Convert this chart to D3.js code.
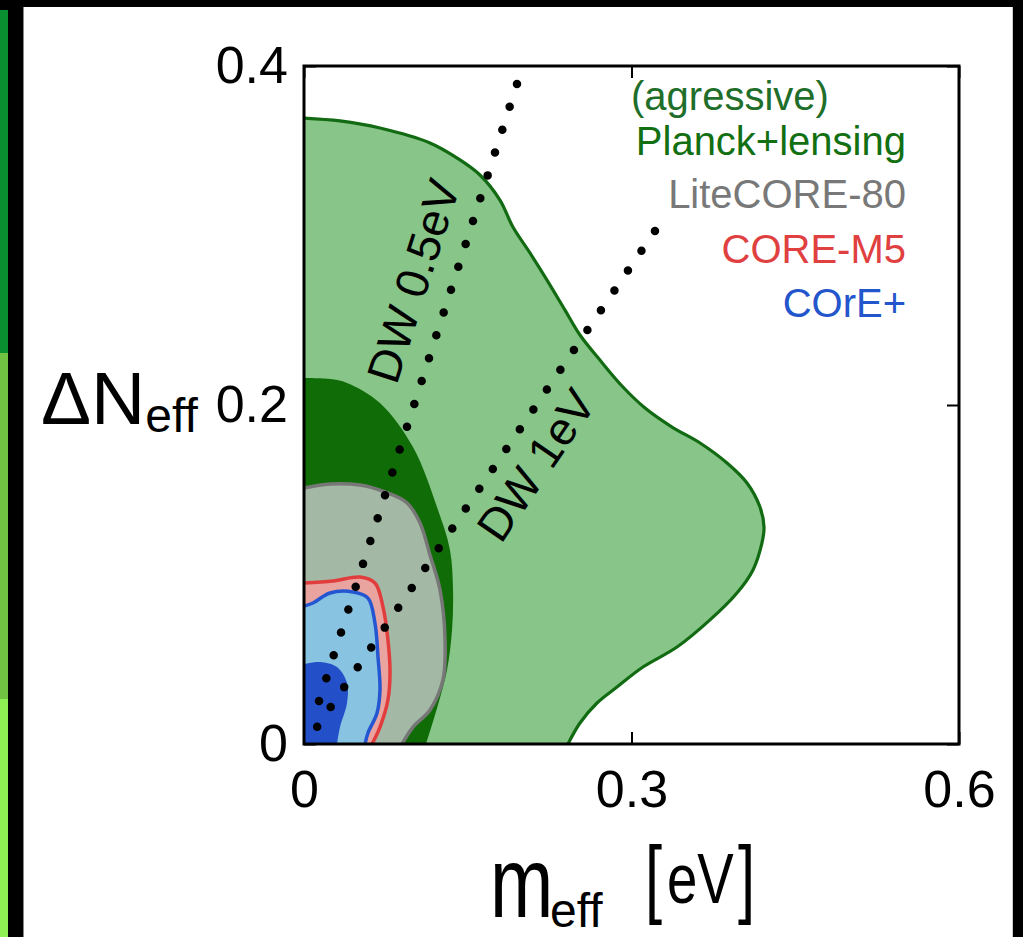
<!DOCTYPE html>
<html>
<head>
<meta charset="utf-8">
<script src="https://cdn.jsdelivr.net/npm/d3@7"></script>
<style>
  html, body { margin: 0; padding: 0; background: #000; }
  svg { display: block; }
  text { font-family: "Liberation Sans", Arial, sans-serif; }
</style>
</head>
<body>
<svg id="chart" width="1023" height="937"></svg>
<script>
// ---- axis ticks ----
const xTicks = [0, 0.3, 0.6];
const xTickLabels = ["0", "0.3", "0.6"];
const yTicks = [0, 0.2, 0.4];
const yTickLabels = ["0", "0.2", "0.4"];

// ---- contour boundaries [m_eff (eV), ΔN_eff], running from the ΔN axis to the m axis ----
const planck95 = [
  [0, 0.3693], [0.0330, 0.3676], [0.0696, 0.3634], [0.1154, 0.3546], [0.1402, 0.3457],
  [0.1612, 0.3357], [0.1795, 0.3209], [0.1914, 0.3050], [0.2070, 0.2897], [0.2226, 0.2737],
  [0.2391, 0.2560], [0.2528, 0.2413], [0.2711, 0.2265], [0.2913, 0.2112], [0.3124, 0.1982],
  [0.3371, 0.1870], [0.3628, 0.1776], [0.3875, 0.1658], [0.4058, 0.1540], [0.4177, 0.1398],
  [0.4214, 0.1280], [0.4195, 0.1186], [0.4113, 0.1027], [0.3966, 0.0891], [0.3719, 0.0732],
  [0.3417, 0.0572], [0.3105, 0.0454], [0.2867, 0.0336], [0.2684, 0.0242], [0.2528, 0.0124],
  [0.2418, 0]
];
const planck68 = [
  [0, 0.2159], [0.0238, 0.2153], [0.0394, 0.2130], [0.0696, 0.2012], [0.0998, 0.1752],
  [0.1218, 0.1398], [0.1337, 0.1145], [0.1365, 0.0909], [0.1356, 0.0673], [0.1310, 0.0437],
  [0.1227, 0.0230], [0.1118, 0]
];
const liteCore = [
  [0, 0.1510], [0.0238, 0.1534], [0.0513, 0.1528], [0.0742, 0.1487], [0.0944, 0.1422],
  [0.1063, 0.1304], [0.1154, 0.1115], [0.1246, 0.0909], [0.1292, 0.0614], [0.1273, 0.0378],
  [0.1154, 0.0201], [0.0998, 0.0100], [0.0898, 0]
];
const coreM5 = [
  [0, 0.0950], [0.0266, 0.0962], [0.0513, 0.0985], [0.0650, 0.0950], [0.0724, 0.0808],
  [0.0769, 0.0614], [0.0788, 0.0419], [0.0769, 0.0260], [0.0696, 0.0100], [0.0623, 0]
];
const corePlus95 = [
  [0, 0.0814], [0.0082, 0.0832], [0.0238, 0.0891], [0.0449, 0.0897], [0.0586, 0.0861],
  [0.0650, 0.0714], [0.0678, 0.0513], [0.0696, 0.0319], [0.0669, 0.0183], [0.0586, 0.0065],
  [0.0559, 0]
];
const corePlus68 = [
  [0, 0.0472], [0.0147, 0.0484], [0.0302, 0.0454], [0.0394, 0.0360], [0.0394, 0.0242],
  [0.0330, 0.0100], [0.0302, 0]
];

// ---- Dodelson–Widrow lines [m_eff, ΔN_eff] ----
const dw05 = [[0.1951, 0.3894], [0.0073, 0.0124]];
const dw1 = [[0.3215, 0.3027], [0.0119, 0.0100]];
const dwLabels = ["DW 0.5eV", "DW 1eV"];
const dwLabelAt = [[0.1000, 0.2732], [0.2125, 0.1646]];

// ---- legend ----
const legendLabels = ["(agressive)", "Planck+lensing", "LiteCORE-80", "CORE-M5", "COrE+"];
const legendColors = ["#1f6e2a", "#127012", "#787878", "#e0403f", "#2355cc"];

// ---- layout ----
const W = 1023, H = 937;
const plot = { left: 304, right: 959, top: 66, bottom: 744 };

const svg = d3.select("#chart");

// page frame
svg.append("rect").attr("width", W).attr("height", H).attr("fill", "#000");
const strip = [[10, 353, "#0a8f30"], [353, 699, "#71c143"], [699, 937, "#8ef052"]];
strip.forEach(([a, b, c]) => svg.append("rect").attr("x", 0).attr("y", a).attr("width", 8).attr("height", b - a).attr("fill", c));
svg.append("rect").attr("x", 23).attr("y", 7).attr("width", 990).attr("height", H - 7).attr("fill", "#fff");
svg.append("line").attr("x1", 23.5).attr("x2", 23.5).attr("y1", 7).attr("y2", H).attr("stroke", "#888").attr("stroke-width", 1);
svg.append("line").attr("x1", 1012.5).attr("x2", 1012.5).attr("y1", 7).attr("y2", H).attr("stroke", "#ccc").attr("stroke-width", 1);

const x = d3.scaleLinear().domain([0, 0.6]).range([plot.left, plot.right]);
const y = d3.scaleLinear().domain([0, 0.4]).range([plot.bottom, plot.top]);

// ---- axes (inward ticks, drawn beneath the filled regions) ----
function styleAxis(g) {
  g.select(".domain").remove();
  g.selectAll(".tick line").attr("stroke", "#000").attr("stroke-width", 2);
  g.selectAll(".tick text").attr("fill", "#000").attr("font-size", 52)
    .attr("font-family", '"Liberation Sans", Arial, sans-serif');
}
svg.append("g").attr("transform", `translate(0,${plot.bottom})`)
  .call(d3.axisBottom(x).tickValues(xTicks).tickFormat((d, i) => xTickLabels[i]).tickSize(-12).tickPadding(26))
  .call(styleAxis);
svg.append("g").attr("transform", `translate(0,${plot.top})`)
  .call(d3.axisTop(x).tickValues(xTicks).tickFormat("").tickSize(-12))
  .call(styleAxis);
svg.append("g").attr("transform", `translate(${plot.left},0)`)
  .call(d3.axisLeft(y).tickValues(yTicks).tickFormat((d, i) => yTickLabels[i]).tickSize(-12).tickPadding(16))
  .call(styleAxis);
svg.append("g").attr("transform", `translate(${plot.right},0)`)
  .call(d3.axisRight(y).tickValues(yTicks).tickFormat("").tickSize(-12))
  .call(styleAxis);

// ---- filled confidence regions ----
svg.append("clipPath").attr("id", "plotClip").append("rect")
  .attr("x", plot.left).attr("y", plot.top)
  .attr("width", plot.right - plot.left).attr("height", plot.bottom - plot.top);
const area = svg.append("g").attr("clip-path", "url(#plotClip)");

const curve = d3.line().x(d => x(d[0])).y(d => y(d[1])).curve(d3.curveCatmullRom.alpha(0.5));
const regions = [
  { pts: planck95, fill: "#88c589", stroke: "#126b12", sw: 3.2 },
  { pts: planck68, fill: "#0f6c07", stroke: null },
  { pts: liteCore, fill: "#a4b9a5", stroke: "#777777", sw: 3.5 },
  { pts: coreM5, fill: "#e9a4a0", stroke: "#e23d3d", sw: 3.5 },
  { pts: corePlus95, fill: "#88c3e2", stroke: "#2456d2", sw: 3.5 },
  { pts: corePlus68, fill: "#2350c8", stroke: null }
];
regions.forEach(r => {
  area.append("path")
    .attr("d", curve(r.pts) + `L${x(0)},${y(0)}Z`)
    .attr("fill", r.fill);
  if (r.stroke) {
    area.append("path").attr("d", curve(r.pts))
      .attr("fill", "none").attr("stroke", r.stroke).attr("stroke-width", r.sw)
      .attr("stroke-linejoin", "round");
  }
});

// ---- dotted DW lines ----
const straight = d3.line().x(d => x(d[0])).y(d => y(d[1]));
[dw05, dw1].forEach(l => {
  area.append("path").attr("d", straight(l))
    .attr("fill", "none").attr("stroke", "#000").attr("stroke-width", 8.5)
    .attr("stroke-linecap", "round").attr("stroke-dasharray", "0 24");
});
[dw05, dw1].forEach((l, i) => {
  const ang = Math.atan2(y(l[0][1]) - y(l[1][1]), x(l[0][0]) - x(l[1][0])) * 180 / Math.PI;
  const [lx, ly] = dwLabelAt[i];
  svg.append("text")
    .attr("transform", `translate(${x(lx)},${y(ly)}) rotate(${ang})`)
    .attr("text-anchor", "middle").attr("dy", "0.35em")
    .attr("font-size", 46).attr("fill", "#000")
    .text(dwLabels[i]);
});

// ---- plot frame ----
svg.append("rect")
  .attr("x", plot.left).attr("y", plot.top)
  .attr("width", plot.right - plot.left).attr("height", plot.bottom - plot.top)
  .attr("fill", "none").attr("stroke", "#000").attr("stroke-width", 3);

// ---- legend ----
const legendBase = [110, 155, 208, 263, 317];
legendLabels.forEach((t, i) => {
  const first = i === 0;
  svg.append("text").attr("x", first ? 631 : 906).attr("y", legendBase[i])
    .attr("text-anchor", first ? "start" : "end").attr("font-size", 40)
    .attr("fill", legendColors[i]).text(t);
});

// ---- axis titles ----
function put(str, px, py, size, sx) {
  return svg.append("text")
    .attr("transform", `translate(${px},${py}) scale(${sx},1)`)
    .attr("font-size", size).attr("fill", "#000").text(str);
}
const yTitle = svg.append("text").attr("x", 41).attr("y", 424).attr("font-size", 75).attr("fill", "#000");
yTitle.append("tspan").text("ΔN");
yTitle.append("tspan").attr("font-size", 48).attr("dy", 8).text("eff");

put("m", 490, 917, 100, 0.76);
put("eff", 550, 927, 48, 1);
put("[", 645, 907, 88, 0.7);
put("eV", 667, 903, 70, 0.78);
put("]", 738, 907, 88, 0.7);
</script>
</body>
</html>
